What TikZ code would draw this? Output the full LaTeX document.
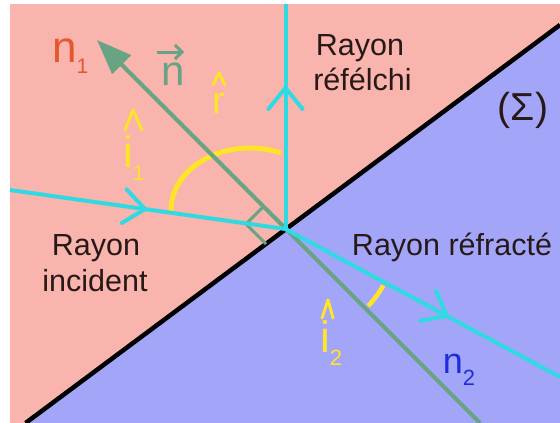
\documentclass[tikz,border=0pt]{standalone}
\usepackage{fontspec}
\setmainfont{Liberation Sans}
\usetikzlibrary{arrows.meta,decorations.markings,calc}
\definecolor{pinkbg}{RGB}{249,180,173}
\definecolor{bluebg}{RGB}{163,166,248}
\definecolor{raycol}{RGB}{48,218,226}
\definecolor{normcol}{RGB}{104,163,132}
\definecolor{yel}{RGB}{255,228,40}
\definecolor{nonecol}{RGB}{229,88,45}
\definecolor{ntwocol}{RGB}{30,45,220}
\definecolor{txt}{RGB}{40,25,25}
\begin{document}
\begin{tikzpicture}[x=1pt,y=-1pt,
  ray/.style={raycol, line width=4pt},
  chev/.style={postaction={decorate, decoration={markings,
      mark=at position #1 with {\draw[raycol, line width=4pt, line cap=round, line join=round] (-21pt,17pt) -- (0pt,0pt) -- (-21pt,-17pt);}}}},
  normline/.style={normcol, line width=4pt},
  anglearc/.style={yel, line width=5pt},
  hatmark/.style={yel, line width=3pt, line cap=round, line join=round},
  lab/.style={inner sep=0pt, anchor=base, text=txt, font=\fontsize{30.5}{35}\selectfont},
  sym/.style={inner sep=0pt, anchor=base west, font=\fontsize{44}{44}\selectfont}
]
\useasboundingbox (0,0) rectangle (560,423);
% regions
\coordinate (S1) at (25.6,423);
\coordinate (S2) at (560,24.9);
\fill[pinkbg] (10,4) -- (560,4) -- (S2) -- (S1) -- (10,423) -- cycle;
\fill[bluebg] (S2) -- (560,423) -- (S1) -- cycle;
\draw[black, line width=4.5pt] (S1) -- (S2);
% key points
\coordinate (O) at (285.5,229);
\coordinate (Ain) at (10,190);
\coordinate (Rtop) at (285.5,4);
\coordinate (Rend) at (560,377);
\coordinate (Ntip) at (97,40);
\coordinate (Nbot) at (480,423);
\coordinate (ac) at (250,210);
% angle arcs
\draw[anglearc] ($(ac)+(-181:79 and 62)$) arc[start angle=-181, end angle=-67, x radius=79, y radius=62];
\draw[anglearc, line width=4.5pt] ($(O)+(30:113)$) arc[start angle=30, end angle=43, radius=113];
% normal
\draw[normline, -{Triangle[length=35pt,width=26pt]}] (Nbot) -- (Ntip);
\coordinate (Ra) at (263.5,206.5);
\coordinate (Rb) at (246,224);
\coordinate (Rc) at (266,244);
\draw[normcol, line width=3pt] (Ra) -- (Rb) -- (Rc);
% rays
\draw[ray, chev=0.49] (Ain) -- (O);
\draw[ray, chev=0.627] (O) -- (Rtop);
\draw[ray, chev=0.587] (O) -- (Rend);
% texts
\node[lab] (reflA) at (360,55) {Rayon};
\node[lab] (reflB) at (362.5,90) {réfélchi};
\node[lab] (incA) at (96,255) {Rayon};
\node[lab] (incB) at (95,291) {incident};
\node[lab] (refr) at (452,255) {Rayon réfracté};
\node[lab, font=\fontsize{39}{39}\selectfont] (sigma) at (523,120) {(Σ)};
% symbols
\node[sym, text=nonecol] (none) at (52,62) {n\raisebox{-11pt}{\fontsize{21}{21}\selectfont 1}};
\node[sym, text=normcol, font=\fontsize{42}{42}\selectfont] (nvec) at (161,85) {n};
\draw[normcol, line width=3pt, -{Straight Barb[length=7pt,width=14pt]}] ($(nvec.base west)+(-4,-33)$) -- ($(nvec.base west)+(23,-33)$);
\node[sym, text=yel, font=\fontsize{38}{38}\selectfont] (rhat) at (212,113) {r};
\draw[hatmark] ($(rhat.base west)+(1,-28)$) -- ($(rhat.base west)+(7,-40)$) -- ($(rhat.base west)+(13,-28)$);
\node[sym, text=yel] (ione) at (123,167) {i\raisebox{-13pt}{\fontsize{21}{21}\selectfont 1}};
\draw[hatmark] ($(ione.base west)+(2,-37)$) -- ($(ione.base west)+(10,-57)$) -- ($(ione.base west)+(19,-37)$);
\node[sym, text=yel] (itwo) at (320,352) {i\raisebox{-13pt}{\fontsize{22}{22}\selectfont 2}};
\draw[hatmark] ($(itwo.base west)+(2,-34)$) -- ($(itwo.base west)+(8,-52)$) -- ($(itwo.base west)+(13,-34)$);
\node[sym, text=ntwocol, font=\fontsize{36}{36}\selectfont] (ntwo) at (442.7,373) {n\raisebox{-12pt}{\fontsize{22}{22}\selectfont 2}};
\end{tikzpicture}
\end{document}
